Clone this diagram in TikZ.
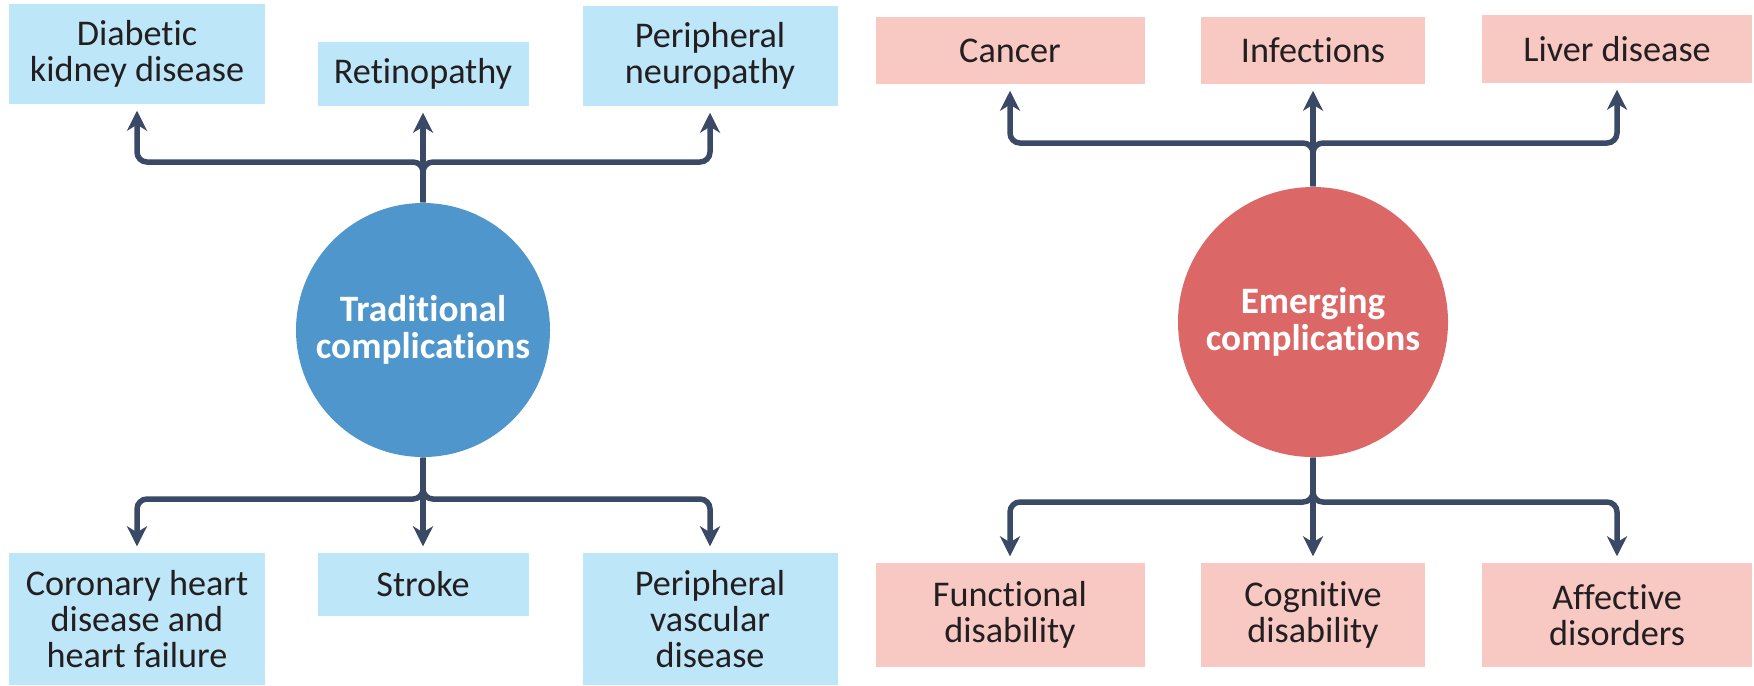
\documentclass[tikz,border=0pt]{standalone}
\usepackage{fontspec}
\setmainfont{Carlito}[Ligatures={NoCommon}]
\usetikzlibrary{arrows.meta,positioning}

\definecolor{tradfill}{HTML}{BDE6F8}
\definecolor{emergfill}{HTML}{F8C8C3}
\definecolor{tradhub}{HTML}{4E96CB}
\definecolor{emerghub}{HTML}{DB6866}
\definecolor{linkcol}{HTML}{3A4A66}
\definecolor{textcol}{HTML}{231F20}

\begin{document}
\begin{tikzpicture}[x=0.1mm, y=-0.1mm,
    font=\fontsize{10.3}{10.2}\selectfont, text=textcol,
    % boxes are sized in image pixels (1px = 0.1mm)
    tradbox/.style={fill=tradfill, align=center, inner sep=0pt},
    emergbox/.style={fill=emergfill, align=center, inner sep=0pt},
    hub/.style={circle, inner sep=0pt, align=center, text=white,
                font=\fontsize{10.6}{10.6}\selectfont\bfseries},
    link/.style={draw=linkcol, line width=0.55mm, rounded corners=1mm,
                 -{Stealth[length=2mm, width=2mm, inset=0.6mm]},
                 shorten >=0.6mm}]
  \useasboundingbox (0,0) rectangle (1754,685);

  % ---- left half: the traditional complications
  \node[hub, fill=tradhub, minimum size=25.4mm] (trad) at (423,330)
    {Traditional\\complications};
  \node[tradbox, minimum width=25.6mm, minimum height=10mm] (dkd) at (137,54)
    {Diabetic\\kidney disease};
  \node[tradbox, minimum width=21.1mm, minimum height=6.4mm] (ret) at (423,74)
    {Retinopathy};
  \node[tradbox, minimum width=25.5mm, minimum height=10mm] (pn) at (710,56)
    {Peripheral\\neuropathy};
  \node[tradbox, minimum width=25.6mm, minimum height=13.2mm] (chd) at (137,619)
    {Coronary heart\\disease and\\heart failure};
  \node[tradbox, minimum width=21.1mm, minimum height=6.3mm] (stroke) at (423,584.5)
    {Stroke};
  \node[tradbox, minimum width=25.5mm, minimum height=13.2mm] (pvd) at (710,619)
    {Peripheral\\vascular\\disease};

  \coordinate (tradup) at (423,162);
  \coordinate (traddown) at (423,499);
  \draw[link] (trad.north) -- (tradup) -| (dkd.south);
  \draw[link] (trad.north) -- (tradup) -| (pn.south);
  \draw[link] (trad.north) -- (ret.south);
  \draw[link] (trad.south) -- (traddown) -| (chd.north);
  \draw[link] (trad.south) -- (traddown) -| (pvd.north);
  \draw[link] (trad.south) -- (stroke.north);

  % ---- right half: the emerging complications
  \node[hub, fill=emerghub, minimum size=27mm] (emerg) at (1313,322)
    {Emerging\\complications};
  \node[emergbox, minimum width=26.9mm, minimum height=6.7mm] (cancer) at (1010,50.5)
    {Cancer};
  \node[emergbox, minimum width=22.4mm, minimum height=6.7mm] (inf) at (1313,50.5)
    {Infections};
  \node[emergbox, minimum width=27mm, minimum height=6.8mm] (liver) at (1617,49)
    {Liver disease};
  \node[emergbox, minimum width=26.9mm, minimum height=10.4mm] (func) at (1010,615)
    {Functional\\disability};
  \node[emergbox, minimum width=22.4mm, minimum height=10.4mm] (cog) at (1313,615)
    {Cognitive\\disability};
  \node[emergbox, minimum width=27mm, minimum height=10.4mm] (aff) at (1617,615)
    {Affective\\disorders};

  \coordinate (emergup) at (1313,143);
  \coordinate (emergdown) at (1313,502);
  \draw[link] (emerg.north) -- (emergup) -| (cancer.south);
  \draw[link] (emerg.north) -- (emergup) -| (liver.south);
  \draw[link] (emerg.north) -- (inf.south);
  \draw[link] (emerg.south) -- (emergdown) -| (func.north);
  \draw[link] (emerg.south) -- (emergdown) -| (aff.north);
  \draw[link] (emerg.south) -- (cog.north);
\end{tikzpicture}
\end{document}
